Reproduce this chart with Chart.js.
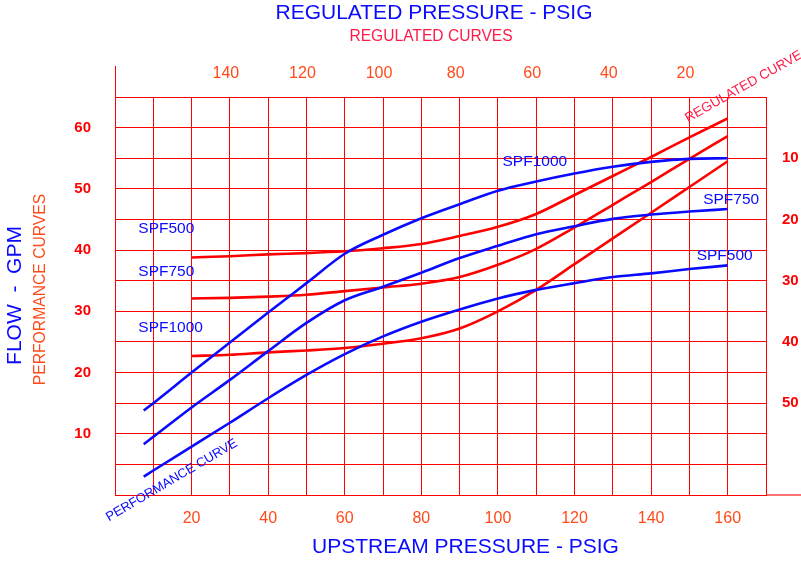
<!DOCTYPE html>
<html><head><meta charset="utf-8">
<script src="https://cdn.jsdelivr.net/npm/chart.js@4"></script>
<style>html,body{margin:0;padding:0;background:#fff}#wrap{width:801px;height:563px;position:relative}</style>
</head><body><div id="wrap"><canvas id="c"></canvas></div>
<script>
// ---- data ----
const perfX      = [7.5, 10, 20, 30, 40, 50, 60, 70, 80, 90, 100, 110, 120, 130, 140, 150, 160];
const spf1000Perf = [13.8, 15.0, 20.0, 24.9, 29.8, 34.6, 39.4, 42.5, 45.2, 47.5, 49.7, 51.2, 52.5, 53.6, 54.4, 54.9, 55.0];
const spf750Perf  = [8.3, 9.5, 14.3, 18.8, 23.5, 28.1, 31.8, 34.0, 36.3, 38.7, 40.7, 42.6, 43.9, 45.1, 45.8, 46.3, 46.7];
const spf500Perf  = [3.0, 4.0, 7.9, 11.8, 15.8, 19.6, 23.0, 25.9, 28.3, 30.3, 32.1, 33.5, 34.6, 35.6, 36.2, 36.9, 37.5];

const regX       = [20, 30, 40, 50, 60, 70, 80, 90, 100, 110, 120, 130, 140, 150, 160];
const spf500Reg  = [38.8, 39.0, 39.3, 39.5, 39.8, 40.3, 41.0, 42.3, 43.8, 45.9, 49.0, 52.1, 55.2, 58.4, 61.5];
const spf750Reg  = [32.1, 32.2, 32.4, 32.7, 33.3, 33.9, 34.5, 35.6, 37.6, 40.2, 43.7, 47.4, 51.1, 54.9, 58.6];
const spf1000Reg = [22.7, 22.9, 23.3, 23.6, 24.0, 24.7, 25.6, 27.2, 30.0, 33.5, 37.7, 41.9, 46.1, 50.3, 54.5];

const bottomTickLabels = [20, 40, 60, 80, 100, 120, 140, 160];
const topTickLabels    = [140, 120, 100, 80, 60, 40, 20];
const leftTickLabels   = [10, 20, 30, 40, 50, 60];
const rightTickLabels  = [10, 20, 30, 40, 50];

const seriesLabels = [
  {text: 'SPF500',  x: 6.1,   y: 43.5},
  {text: 'SPF750',  x: 6.1,   y: 36.5},
  {text: 'SPF1000', x: 6.1,   y: 27.4},
  {text: 'SPF1000', x: 101.2, y: 54.4},
  {text: 'SPF750',  x: 153.6, y: 48.2},
  {text: 'SPF500',  x: 151.9, y: 39.0}
];

// ---- styling ----
const FONT = "'Liberation Sans', Arial, Helvetica, sans-serif";
const BLUE = '#0a0aff';
const RED = '#ff0000';
const ORANGE = '#ff4a1a';
const PINK = '#ff1a48';

const pts = (xs, ys) => xs.map((x, i) => ({x: x, y: ys[i]}));
const line = (label, xs, ys, color) => ({
  label, data: pts(xs, ys), borderColor: color, backgroundColor: color,
  borderWidth: 2.6, pointRadius: 0, fill: false, tension: 0,
  cubicInterpolationMode: 'monotone', xAxisID: 'x', yAxisID: 'y'
});

const decor = {
  id: 'decor',
  afterDraw(chart) {
    const ctx = chart.ctx, a = chart.chartArea;
    const sx = chart.scales.x, sy = chart.scales.y;
    ctx.save();
    // axis extensions
    ctx.strokeStyle = RED; ctx.lineWidth = 1;
    ctx.beginPath(); ctx.moveTo(a.left + 0.5, 66); ctx.lineTo(a.left + 0.5, a.top); ctx.stroke();
    ctx.strokeStyle = 'rgba(255,0,0,0.55)'; ctx.lineWidth = 2;
    ctx.beginPath(); ctx.moveTo(a.right, a.bottom); ctx.lineTo(801, a.bottom); ctx.stroke();

    ctx.textBaseline = 'middle'; ctx.textAlign = 'center';
    // titles
    ctx.fillStyle = BLUE; ctx.font = '21px ' + FONT;
    ctx.fillText('REGULATED PRESSURE - PSIG', 434, 13.5);
    ctx.fillStyle = PINK; ctx.font = '15.6px ' + FONT;
    ctx.fillText('REGULATED CURVES', 431, 36.5);
    ctx.fillStyle = BLUE; ctx.font = '21px ' + FONT;
    ctx.fillText('UPSTREAM PRESSURE - PSIG', 465.5, 547.5);
    // rotated y titles
    ctx.save(); ctx.translate(15, 295.5); ctx.rotate(-Math.PI / 2);
    ctx.fillStyle = BLUE; ctx.font = '21px ' + FONT; ctx.fillText('FLOW  -  GPM', 0, 0);
    ctx.restore();
    ctx.save(); ctx.translate(40.5, 289.5); ctx.rotate(-Math.PI / 2);
    ctx.fillStyle = ORANGE; ctx.font = '15.7px ' + FONT; ctx.fillText('PERFORMANCE CURVES', 0, 0);
    ctx.restore();
    // diagonal notes
    ctx.textAlign = 'left'; ctx.textBaseline = 'alphabetic';
    ctx.save(); ctx.translate(688, 122.5); ctx.rotate(-29.5 * Math.PI / 180);
    ctx.fillStyle = PINK; ctx.font = '13.5px ' + FONT; ctx.fillText('REGULATED CURVE', 0, 0);
    ctx.restore();
    ctx.save(); ctx.translate(109, 521.5); ctx.rotate(-30.5 * Math.PI / 180);
    ctx.fillStyle = BLUE; ctx.font = '13px ' + FONT; ctx.fillText('PERFORMANCE CURVE', 0, 0);
    ctx.restore();
    // series labels
    ctx.textBaseline = 'middle';
    ctx.fillStyle = BLUE; ctx.font = '15.5px ' + FONT;
    seriesLabels.forEach(l => ctx.fillText(l.text, sx.getPixelForValue(l.x), sy.getPixelForValue(l.y)));
    ctx.restore();
  }
};

new Chart(document.getElementById('c'), {
  type: 'line',
  data: {
    datasets: [
      line('SPF1000 performance', perfX, spf1000Perf, BLUE),
      line('SPF750 performance',  perfX, spf750Perf,  BLUE),
      line('SPF500 performance',  perfX, spf500Perf,  BLUE),
      line('SPF500 regulated',    regX,  spf500Reg,   RED),
      line('SPF750 regulated',    regX,  spf750Reg,   RED),
      line('SPF1000 regulated',   regX,  spf1000Reg,  RED)
    ]
  },
  options: {
    responsive: true, maintainAspectRatio: false, animation: false,
    layout: {padding: 0},
    plugins: {legend: {display: false}, title: {display: false}, tooltip: {enabled: false}},
    scales: {
      x: {
        type: 'linear', position: 'bottom', min: 0, max: 170,
        afterFit: s => { s.height = 68; },
        grid: {color: RED, lineWidth: 1, drawTicks: false},
        border: {color: RED, width: 1},
        ticks: {stepSize: 10, autoSkip: false, maxRotation: 0, padding: 14,
          color: ORANGE, font: {family: FONT, size: 16},
          callback: v => bottomTickLabels.includes(v) ? String(v) : ''}
      },
      x2: {
        type: 'linear', position: 'top', min: 0, max: 170, reverse: true,
        afterFit: s => { s.height = 97; },
        grid: {display: false, drawTicks: false},
        border: {display: false},
        ticks: {stepSize: 10, autoSkip: false, maxRotation: 0, padding: 14, labelOffset: -4,
          color: ORANGE, font: {family: FONT, size: 16},
          callback: v => topTickLabels.includes(v) ? String(v) : ''}
      },
      y: {
        type: 'linear', position: 'left', min: 0, max: 65,
        afterFit: s => { s.width = 115; },
        grid: {color: RED, lineWidth: 1, drawTicks: false},
        border: {color: RED, width: 1},
        ticks: {stepSize: 5, autoSkip: false, padding: 24,
          color: RED, font: {family: FONT, size: 15, weight: 'bold'},
          callback: v => leftTickLabels.includes(v) ? String(v) : ''}
      },
      y2: {
        type: 'linear', position: 'right', min: 0, max: 65, reverse: true,
        afterFit: s => { s.width = 35; },
        grid: {display: false, drawTicks: false},
        border: {display: false},
        ticks: {stepSize: 5, autoSkip: false, padding: 16,
          color: RED, font: {family: FONT, size: 15, weight: 'bold'},
          callback: v => rightTickLabels.includes(v) ? String(v) : ''}
      }
    }
  },
  plugins: [decor]
});
</script>
</body></html>
